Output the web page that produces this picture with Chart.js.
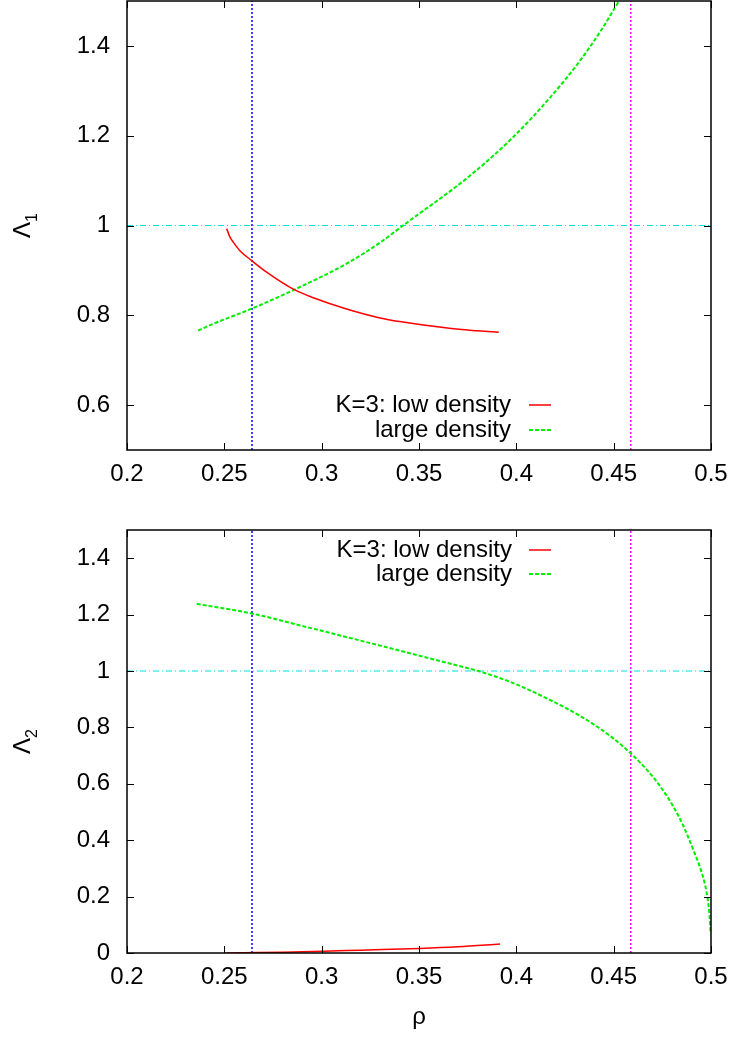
<!DOCTYPE html>
<html><head><meta charset="utf-8">
<script src="https://cdn.jsdelivr.net/npm/chart.js@4.4.1/dist/chart.umd.min.js"></script>
<style>
html,body{margin:0;padding:0;background:#fff;width:735px;height:1038px;overflow:hidden}
canvas{position:absolute;left:0}
</style></head><body>
<canvas id="c1" width="735" height="500" style="top:0px"></canvas>
<canvas id="c2" width="735" height="538" style="top:500px"></canvas>
<script>
// ---- data ----
const xTicks = [0.2, 0.25, 0.3, 0.35, 0.4, 0.45, 0.5];
const yTicksTop = [0.6, 0.8, 1, 1.2, 1.4];
const yTicksBottom = [0, 0.2, 0.4, 0.6, 0.8, 1, 1.2, 1.4];
const seriesLabels = ["K=3: low density", "large density"];

const rhoLowTop = [0.2512, 0.2529, 0.2546, 0.2580, 0.2640, 0.2717, 0.2859, 0.2957, 0.3128, 0.3300, 0.3400, 0.3656, 0.3800, 0.3910];
const lam1Low   = [0.993, 0.974, 0.963, 0.944, 0.922, 0.896, 0.857, 0.839, 0.814, 0.794, 0.786, 0.771, 0.7655, 0.762];
const rhoLargeTop = [0.2365, 0.2443, 0.2642, 0.2859, 0.3128, 0.3300, 0.3418, 0.3762, 0.3984, 0.4173, 0.4327, 0.4446, 0.4527];
const lam1Large   = [0.766, 0.781, 0.815, 0.857, 0.915, 0.962, 1.000, 1.111, 1.197, 1.285, 1.367, 1.442, 1.500];

const rhoLowBot = [0.2507, 0.2600, 0.2800, 0.3008, 0.3200, 0.3505, 0.3700, 0.3916];
const lam2Low   = [0.000, 0.001, 0.003, 0.006, 0.010, 0.016, 0.022, 0.032];
const rhoLargeBot = [0.2358, 0.2640, 0.2957, 0.3300, 0.3642, 0.3813, 0.3984, 0.4156, 0.4327, 0.4412, 0.4498, 0.4592, 0.4669, 0.4738, 0.4806, 0.4857, 0.4909, 0.4952, 0.4977, 0.4991, 0.4998];
const lam2Large   = [1.238, 1.204, 1.150, 1.090, 1.029, 0.998, 0.957, 0.903, 0.841, 0.804, 0.761, 0.705, 0.651, 0.592, 0.520, 0.452, 0.366, 0.286, 0.216, 0.145, 0.070];

const rhoMarks = [0.2642, 0.4588];
const lambdaRef = 1;
const xRange = [0.2, 0.5];
const yRangeTop = [0.5, 1.5];
const yRangeBottom = [0, 1.5];

// ---- helpers ----
const FONT = '"Liberation Sans", Arial, Helvetica, sans-serif';
const pts = (xs, ys) => xs.map((v, i) => ({x: v, y: ys[i]}));
const fmt = v => String(+Number(v).toFixed(2));

const framePlugin = {
  id: 'frame',
  afterDraw(chart, args, o) {
    const {ctx, chartArea: a} = chart;
    const x = chart.scales.x, y = chart.scales.y;
    ctx.save();
    ctx.strokeStyle = '#000';
    ctx.lineWidth = 1;
    ctx.beginPath();
    x.ticks.forEach(t => {
      const p = Math.round(x.getPixelForValue(t.value)) + 0.5;
      ctx.moveTo(p, a.bottom); ctx.lineTo(p, a.bottom - 7);
      ctx.moveTo(p, a.top); ctx.lineTo(p, a.top + 7);
    });
    y.ticks.forEach(t => {
      const p = Math.round(y.getPixelForValue(t.value)) + 0.5;
      ctx.moveTo(a.left, p); ctx.lineTo(a.left + 7, p);
      ctx.moveTo(a.right, p); ctx.lineTo(a.right - 7, p);
    });
    ctx.stroke();
    ctx.lineWidth = 1.5;
    ctx.strokeRect(a.left, a.top, a.right - a.left, a.bottom - a.top);

    // legend
    ctx.font = '24px ' + FONT;
    ctx.fillStyle = '#000';
    ctx.textBaseline = 'middle';
    ctx.textAlign = 'right';
    let row = 0;
    chart.data.datasets.forEach(ds => {
      if (!ds.label) return;
      const yy = o.legendY[row++];
      ctx.fillText(ds.label, o.legendTextRight, yy);
      ctx.save();
      ctx.strokeStyle = ds.borderColor;
      ctx.lineWidth = ds.borderWidth;
      ctx.setLineDash(ds.borderDash || []);
      ctx.beginPath();
      ctx.moveTo(o.legendLine[0], yy); ctx.lineTo(o.legendLine[1], yy);
      ctx.stroke();
      ctx.restore();
    });

    // y axis title: Λ with subscript
    const cy = (a.top + a.bottom) / 2;
    ctx.font = '24px ' + FONT;
    const wL = ctx.measureText('Λ').width;
    ctx.font = '16px ' + FONT;
    const wS = ctx.measureText(o.sub).width;
    ctx.translate(29.5, cy + (wL + wS) / 2);
    ctx.rotate(-Math.PI / 2);
    ctx.textAlign = 'left';
    ctx.textBaseline = 'alphabetic';
    ctx.font = '24px ' + FONT;
    ctx.fillText('Λ', 0, 0);
    ctx.font = '16px ' + FONT;
    ctx.fillText(o.sub, wL, 7);
    ctx.restore();

    if (o.xTitle) {
      ctx.save();
      ctx.font = '24px ' + FONT;
      ctx.fillStyle = '#000';
      ctx.textAlign = 'center';
      ctx.textBaseline = 'alphabetic';
      ctx.fillText(o.xTitle, (a.left + a.right) / 2, o.xTitleY);
      ctx.restore();
    }
  }
};

function makeChart(id, lowX, lowY, largeX, largeY, yRange, yTicks, plugOpts, pad, xH) {
  const datasets = [
    {label: seriesLabels[0], data: pts(lowX, lowY), borderColor: '#ff0000', borderWidth: 1.5, order: 0, cubicInterpolationMode: 'monotone'},
    {label: seriesLabels[1], data: pts(largeX, largeY), borderColor: '#00ee00', borderWidth: 2, borderDash: [4, 2], order: 1, cubicInterpolationMode: 'monotone'},
    {data: [{x: rhoMarks[0], y: yRange[0]}, {x: rhoMarks[0], y: yRange[1]}], borderColor: '#0000ff', borderWidth: 1.5, borderDash: [2, 2], order: 2},
    {data: [{x: rhoMarks[1], y: yRange[0]}, {x: rhoMarks[1], y: yRange[1]}], borderColor: '#ff00ff', borderWidth: 1.5, borderDash: [2, 2], order: 3},
    {data: [{x: xRange[0], y: lambdaRef}, {x: xRange[1], y: lambdaRef}], borderColor: '#00dede', borderWidth: 1, borderDash: [6, 3, 1, 3], order: 4}
  ];
  datasets.forEach(d => { d.showLine = true; d.pointRadius = 0; d.fill = false; });
  return new Chart(document.getElementById(id), {
    type: 'scatter',
    data: {datasets},
    options: {
      responsive: false,
      animation: false,
      events: [],
      layout: {padding: pad},
      plugins: {legend: {display: false}, tooltip: {enabled: false}, frame: plugOpts},
      scales: {
        x: {
          type: 'linear', min: xRange[0], max: xRange[1],
          afterBuildTicks: s => { s.ticks = xTicks.map(v => ({value: v})); },
          afterFit: s => { s.height = xH; s.paddingLeft = 0; s.paddingRight = 0; s.paddingTop = 0; s.paddingBottom = 0; },
          grid: {display: false, drawTicks: false},
          border: {display: false},
          ticks: {callback: v => fmt(v), color: '#000', font: {size: 24, family: FONT}, padding: 10, maxRotation: 0, autoSkip: false}
        },
        y: {
          type: 'linear', min: yRange[0], max: yRange[1],
          afterBuildTicks: s => { s.ticks = yTicks.map(v => ({value: v})); },
          afterFit: s => { s.width = 127; s.paddingLeft = 0; s.paddingRight = 0; s.paddingTop = 0; s.paddingBottom = 0; },
          grid: {display: false, drawTicks: false},
          border: {display: false},
          ticks: {callback: v => fmt(v), color: '#000', font: {size: 24, family: FONT}, padding: 17, autoSkip: false}
        }
      }
    },
    plugins: [framePlugin]
  });
}

makeChart('c1', rhoLowTop, lam1Low, rhoLargeTop, lam1Large, yRangeTop, yTicksTop,
  {legendY: [405, 430], legendTextRight: 511, legendLine: [529, 551], sub: '1'},
  {top: 1, left: 0, right: 24, bottom: 0}, 50);

makeChart('c2', rhoLowBot, lam2Low, rhoLargeBot, lam2Large, yRangeBottom, yTicksBottom,
  {legendY: [50, 74], legendTextRight: 512, legendLine: [529, 551], sub: '2', xTitle: 'ρ', xTitleY: 524},
  {top: 30, left: 0, right: 24, bottom: 0}, 85);
</script>
</body></html>
